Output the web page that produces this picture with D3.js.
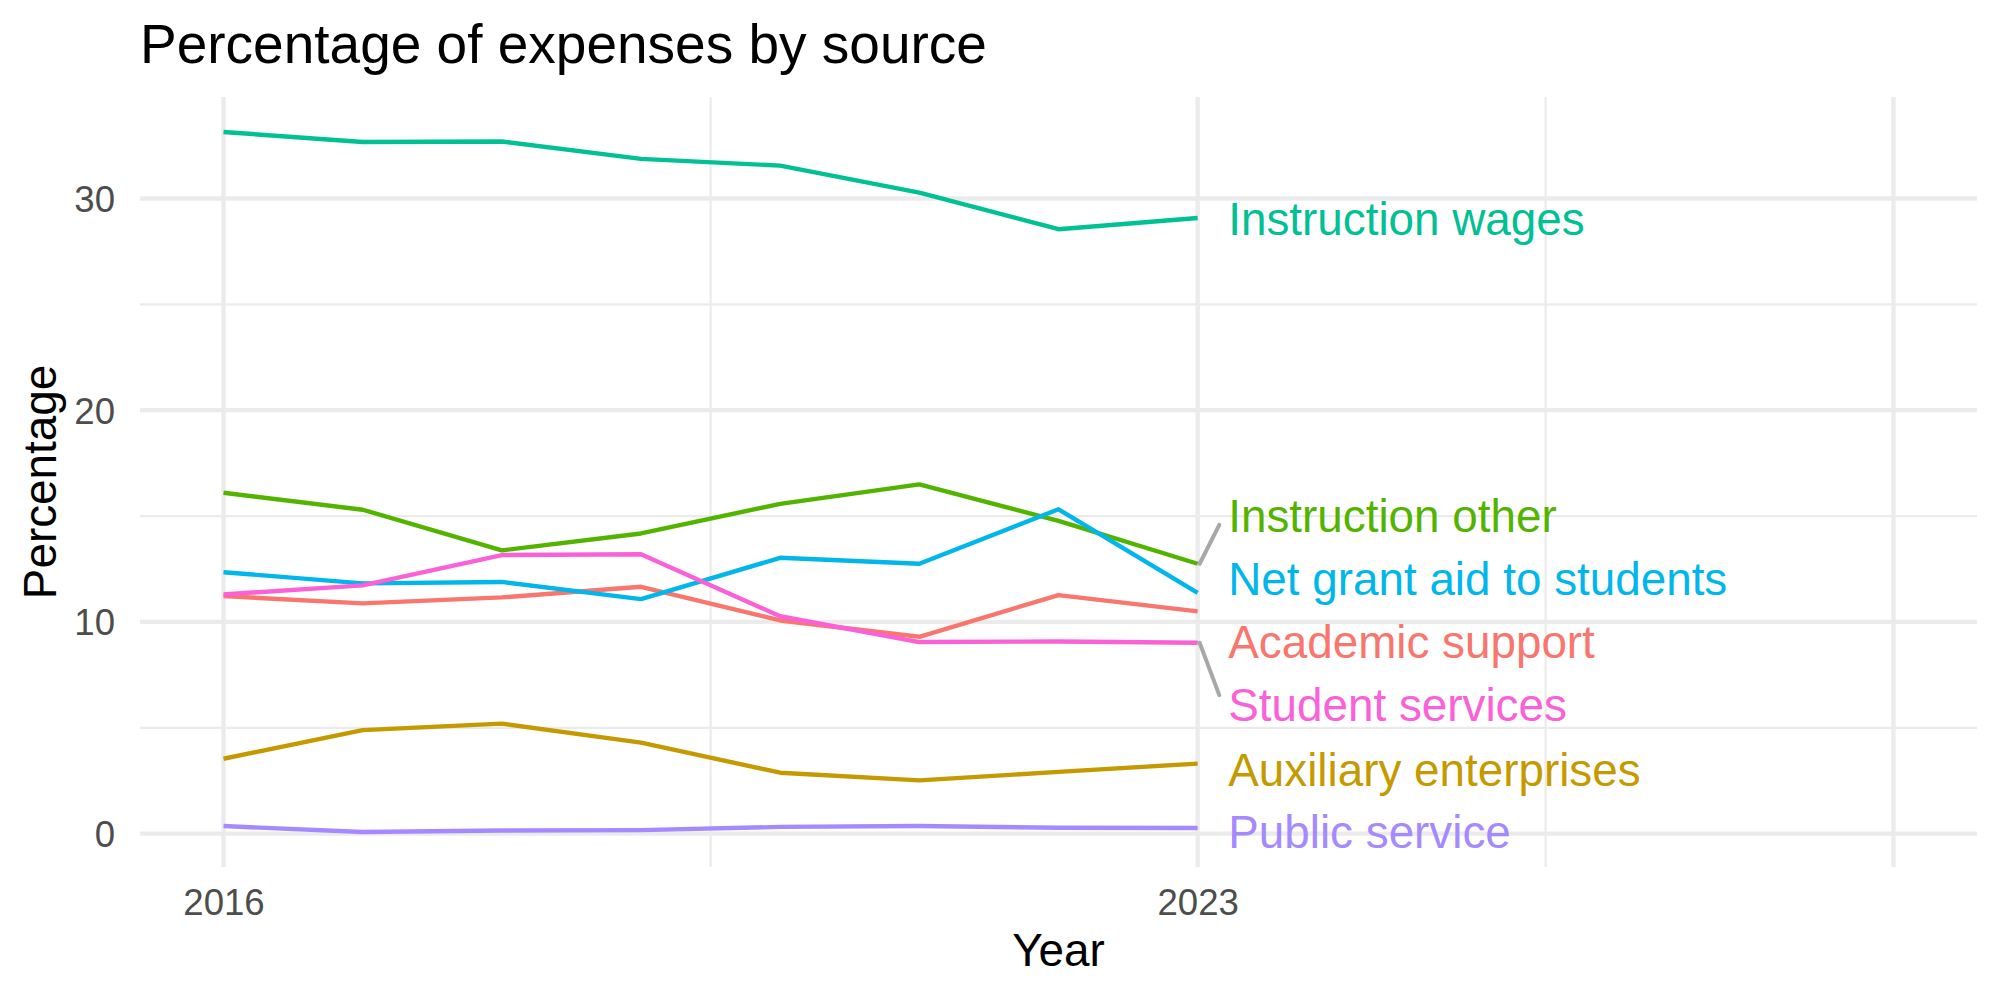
<!DOCTYPE html>
<html>
<head>
<meta charset="utf-8">
<script src="https://cdn.jsdelivr.net/npm/d3@7"></script>
<style>
  body { margin: 0; background: #fff; }
  svg { display: block; font-family: "Liberation Sans", Arial, Helvetica, sans-serif; }
</style>
</head>
<body>
<svg></svg>
<script>
// Data
const years = [2016, 2017, 2018, 2019, 2020, 2021, 2022, 2023];
const academicSupport = [11.22, 10.88, 11.16, 11.66, 10.07, 9.30, 11.27, 10.50];
const auxiliaryEnterprises = [3.54, 4.89, 5.20, 4.30, 2.88, 2.52, 2.92, 3.31];
const instructionOther = [16.10, 15.30, 13.38, 14.18, 15.58, 16.50, 14.77, 12.75];
const instructionWages = [33.14, 32.67, 32.69, 31.87, 31.55, 30.28, 28.55, 29.08];
const netGrantAid = [12.35, 11.82, 11.89, 11.08, 13.03, 12.75, 15.32, 11.37];
const publicService = [0.36, 0.08, 0.15, 0.17, 0.32, 0.36, 0.28, 0.27];
const studentServices = [11.30, 11.73, 13.16, 13.20, 10.27, 9.05, 9.08, 9.02];

const sourceNames = ["Academic support", "Auxiliary enterprises", "Instruction other",
  "Instruction wages", "Net grant aid to students", "Public service", "Student services"];
const sourceValues = [academicSupport, auxiliaryEnterprises, instructionOther,
  instructionWages, netGrantAid, publicService, studentServices];
// label positions after repel (percentage units)
const labelY = [9.08, 3.05, 15.01, 29.03, 12.04, 0.09, 6.12];

const xTicks = [2016, 2023];
const xMajorGrid = [2016, 2023, 2028];
const xMinorGrid = [2019.5, 2025.5];
const yTicks = [0, 10, 20, 30];
const yMinorGrid = [5, 15, 25];

const series = sourceNames.map((name, i) => ({
  name,
  labelY: labelY[i],
  values: years.map((year, j) => ({ year, value: sourceValues[i][j] }))
}));

// Plot size options
const W = 2000, H = 1000;
const panel = { l: 140, r: 1977, t: 97, b: 867 };
const base = 45.8;

const svg = d3.select("svg").attr("width", W).attr("height", H);

// Scales (ggplot style 5% expansion)
const xRange = [2016, 2028];
const xPad = (xRange[1] - xRange[0]) * 0.05;
const xScale = d3.scaleLinear()
  .domain([xRange[0] - xPad, xRange[1] + xPad])
  .range([panel.l, panel.r]);

const allVals = sourceValues.flat();
const [yMin, yMax] = d3.extent(allVals);
const yPad = (yMax - yMin) * 0.05;
const yScale = d3.scaleLinear()
  .domain([yMin - yPad, yMax + yPad])
  .range([panel.b, panel.t]);

const color = d3.scaleOrdinal()
  .domain(sourceNames)
  .range(["#F8766D", "#C49A00", "#53B400", "#00C094", "#00B6EB", "#A58AFF", "#FB61D7"]);

// Grid
const grid = svg.append("g");
grid.selectAll(".ymin").data(yMinorGrid).join("line")
  .attr("x1", panel.l).attr("x2", panel.r)
  .attr("y1", d => yScale(d)).attr("y2", d => yScale(d))
  .attr("stroke", "#EBEBEB").attr("stroke-width", 2.2);
grid.selectAll(".xmin").data(xMinorGrid).join("line")
  .attr("y1", panel.t).attr("y2", panel.b)
  .attr("x1", d => xScale(d)).attr("x2", d => xScale(d))
  .attr("stroke", "#EBEBEB").attr("stroke-width", 2.2);
grid.selectAll(".ymaj").data(yTicks).join("line")
  .attr("x1", panel.l).attr("x2", panel.r)
  .attr("y1", d => yScale(d)).attr("y2", d => yScale(d))
  .attr("stroke", "#EBEBEB").attr("stroke-width", 4.3);
grid.selectAll(".xmaj").data(xMajorGrid).join("line")
  .attr("y1", panel.t).attr("y2", panel.b)
  .attr("x1", d => xScale(d)).attr("x2", d => xScale(d))
  .attr("stroke", "#EBEBEB").attr("stroke-width", 4.3);

// Axes (text only, theme_minimal)
const yAxis = svg.append("g")
  .attr("transform", `translate(${panel.l - 25},0)`)
  .call(d3.axisLeft(yScale).tickValues(yTicks).tickSize(0).tickPadding(0));
yAxis.select(".domain").remove();
yAxis.selectAll("text")
  .attr("fill", "#4D4D4D").attr("font-size", 36.6)
  .attr("font-family", "Liberation Sans, Arial, sans-serif")
  .attr("dy", "0.35em");

const xAxis = svg.append("g")
  .attr("transform", `translate(0,${panel.b + 22})`)
  .call(d3.axisBottom(xScale).tickValues(xTicks).tickFormat(d3.format("d")).tickSize(0).tickPadding(0));
xAxis.select(".domain").remove();
xAxis.selectAll("text")
  .attr("fill", "#4D4D4D").attr("font-size", 36.6)
  .attr("font-family", "Liberation Sans, Arial, sans-serif")
  .attr("dy", "0.71em");

// Lines
const line = d3.line()
  .x(d => xScale(d.year))
  .y(d => yScale(d.value));

svg.append("g").selectAll("path").data(series).join("path")
  .attr("d", d => line(d.values))
  .attr("fill", "none")
  .attr("stroke", d => color(d.name))
  .attr("stroke-width", 4.4)
  .attr("stroke-linejoin", "round");

// Labels with repel segments
const labelX = 2023.22;
const half = 9;
const segs = series.filter(d => Math.abs(d.labelY - d.values[d.values.length - 1].value) > 2);
svg.append("g").selectAll("line").data(segs).join("line")
  .attr("x1", d => xScale(2023) + 2)
  .attr("y1", d => yScale(d.values[d.values.length - 1].value))
  .attr("x2", xScale(labelX) - 9)
  .attr("y2", d => {
    const py = yScale(d.values[d.values.length - 1].value);
    const cy = yScale(d.labelY);
    return Math.max(cy - half, Math.min(cy + half, py));
  })
  .attr("stroke", "#A8A8A8")
  .attr("stroke-width", 4)
  .attr("stroke-linecap", "round");

svg.append("g").selectAll("text").data(series).join("text")
  .attr("x", xScale(labelX))
  .attr("y", d => yScale(d.labelY) + base * 0.358)
  .attr("fill", d => color(d.name))
  .attr("font-size", base)
  .text(d => d.name);

// Titles
svg.append("text")
  .attr("x", 140).attr("y", 62.5)
  .attr("font-size", 55)
  .attr("fill", "#000")
  .text("Percentage of expenses by source");

svg.append("text")
  .attr("x", (panel.l + panel.r) / 2).attr("y", 966)
  .attr("text-anchor", "middle")
  .attr("font-size", base)
  .attr("fill", "#000")
  .text("Year");

svg.append("text")
  .attr("transform", `translate(56,${(panel.t + panel.b) / 2}) rotate(-90)`)
  .attr("text-anchor", "middle")
  .attr("font-size", base)
  .attr("fill", "#000")
  .text("Percentage");
</script>
</body>
</html>
